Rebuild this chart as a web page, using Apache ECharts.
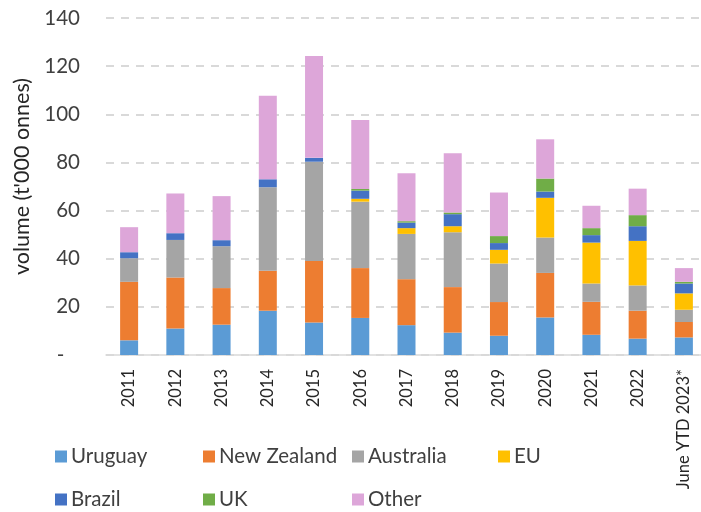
<!DOCTYPE html>
<html>
<head>
<meta charset="utf-8">
<script src="https://cdn.jsdelivr.net/npm/echarts@6/dist/echarts.min.js"></script>
<style>
  html, body { margin: 0; padding: 0; background: #fff; }
  #main { width: 701px; height: 512px; }
</style>
</head>
<body>
<div id="main"></div>
<script>
// categories and values (t'000 tonnes)
var years = ['2011', '2012', '2013', '2014', '2015', '2016', '2017', '2018', '2019', '2020', '2021', '2022', 'June YTD 2023*'];
var uruguay    = [6.1, 11.0, 12.6, 18.4, 13.5, 15.4, 12.4, 9.3, 8.0, 15.6, 8.4, 6.8, 7.3];
var newZealand = [24.3, 21.2, 15.2, 16.6, 25.6, 20.7, 19.1, 18.9, 14.0, 18.5, 13.7, 11.6, 6.4];
var australia  = [9.8, 15.6, 17.4, 34.7, 41.2, 27.6, 18.8, 22.8, 16.0, 14.7, 7.6, 10.5, 5.1];
var eu         = [0, 0, 0, 0, 0, 1.2, 2.4, 2.5, 5.7, 16.5, 17.0, 18.5, 6.8];
var brazil     = [2.5, 2.8, 2.5, 3.3, 1.6, 3.4, 2.3, 5.0, 2.8, 2.6, 3.1, 6.1, 4.1];
var uk         = [0, 0, 0, 0, 0, 0.7, 0.6, 0.7, 2.9, 5.4, 2.9, 4.6, 0.7];
var other      = [10.4, 16.5, 18.3, 34.7, 42.3, 28.6, 19.9, 24.6, 18.1, 16.3, 9.3, 11.0, 5.7];
var yTicks = [0, 20, 40, 60, 80, 100, 120, 140];

var seriesNames = ['Uruguay', 'New Zealand', 'Australia', 'EU', 'Brazil', 'UK', 'Other'];
var seriesData = [uruguay, newZealand, australia, eu, brazil, uk, other];
var colors = ['#5B9BD5', '#ED7D31', '#A5A5A5', '#FFC000', '#4472C4', '#70AD47', '#DDA6D9'];

var font = 'Lato';
var chart = echarts.init(document.getElementById('main'), null, { renderer: 'canvas' });

// legend laid out in a fixed grid like the original (4 columns, 2 rows)
var legendPos = [[55, 446], [203, 446], [352, 446], [498, 446], [55, 489], [203, 489], [352, 489]];
var legends = seriesNames.map(function (n, i) {
  return {
    data: [n],
    left: legendPos[i][0],
    top: legendPos[i][1],
    padding: 0,
    itemWidth: 12,
    itemHeight: 12,
    icon: 'rect',
    selectedMode: false,
    textStyle: { fontFamily: font, fontSize: 20.5, color: '#404040', padding: [0, 0, 0, -1] }
  };
});

var option = {
  animation: false,
  color: colors,
  textStyle: { fontFamily: font },
  grid: {
    left: 106,
    right: -6,
    top: 18,
    bottom: 157,
    containLabel: false,
    outerBoundsMode: 'none'
  },
  legend: legends,
  graphic: [{
    type: 'text',
    left: 11,
    top: 78,
    rotation: Math.PI / 2,
    style: {
      text: "volume (t'000 onnes)",
      font: '21.5px Lato',
      fill: '#262626'
    }
  }],
  xAxis: {
    type: 'category',
    data: years,
    axisLine: { lineStyle: { color: '#D9D9D9', width: 1.5 } },
    axisTick: { show: false },
    axisLabel: {
      rotate: 90,
      interval: 0,
      margin: 14,
      fontFamily: font,
      fontSize: 16.5,
      color: '#262626'
    }
  },
  yAxis: {
    type: 'value',
    min: yTicks[0],
    max: yTicks[yTicks.length - 1],
    interval: 20,
    axisLine: { show: false },
    axisTick: { show: false },
    splitLine: { lineStyle: { color: '#D9D9D9', width: 2, type: [8, 7] } },
    axisLabel: {
      margin: 26,
      fontFamily: font,
      fontSize: 20.5,
      color: '#404040',
      formatter: function (v) { return v === 0 ? '-   ' : String(v); }
    }
  },
  series: seriesNames.map(function (n, i) {
    return {
      name: n,
      type: 'bar',
      stack: 'total',
      barWidth: 18,
      data: seriesData[i]
    };
  })
};

chart.setOption(option);
</script>
</body>
</html>
